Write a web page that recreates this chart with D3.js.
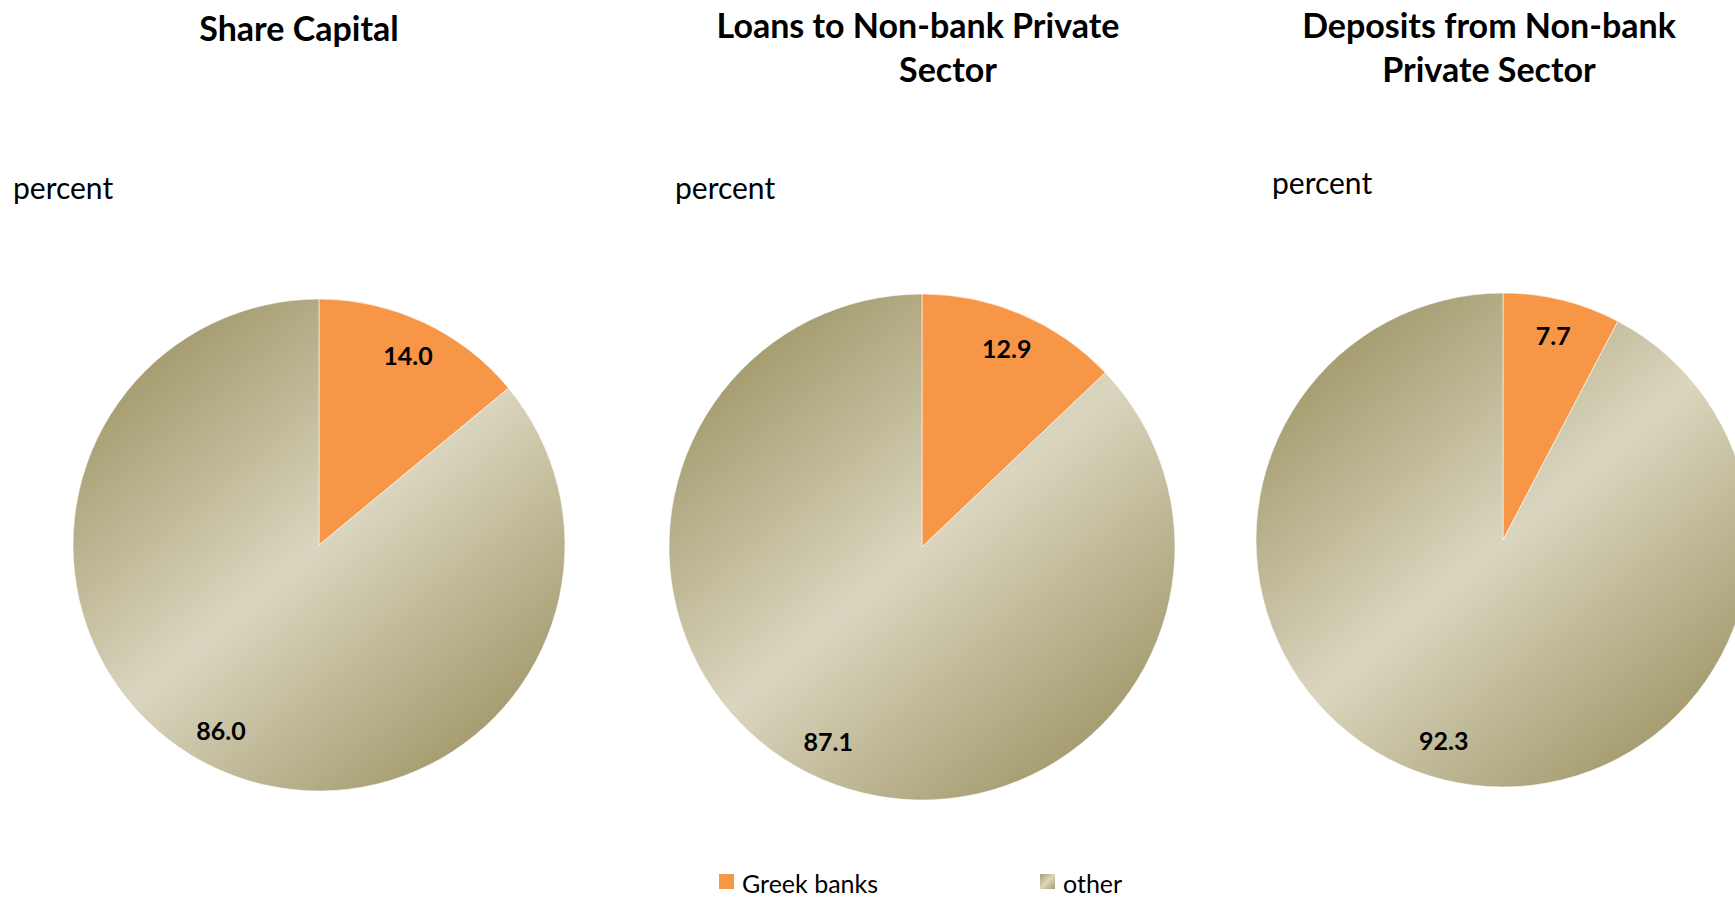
<!DOCTYPE html>
<html>
<head>
<meta charset="utf-8">
<script src="https://cdn.jsdelivr.net/npm/d3@7"></script>
<style>
  html, body { margin: 0; padding: 0; background: #ffffff; overflow: hidden; }
  svg { display: block; }
  text { font-family: Lato, "Noto Sans", sans-serif; fill: #000; }
</style>
</head>
<body>
<script>
// Market shares of Greek banks, percent
const seriesNames = ["Greek banks", "other"];
const panelTitles = [
  ["Share Capital"],
  ["Loans to Non-bank Private", "Sector"],
  ["Deposits from Non-bank", "Private Sector"]
];
const greekBanks = [14.0, 12.9, 7.7];
const other = [86.0, 87.1, 92.3];
const unitLabel = "percent";

const W = 1735, H = 897;

// Panel geometry: pie centre/radius, title centre (+ per-line shift), unit label position
const panels = [
  { cx: 319, cy: 545, r: 246, tx: 299, ty: 41, lineDx: [0], px: 13, py: 199 },
  { cx: 922, cy: 547, r: 253, tx: 918, ty: 38, lineDx: [0, 30], px: 675, py: 199 },
  { cx: 1503, cy: 540, r: 247, tx: 1489, ty: 38, lineDx: [0, 0], px: 1272, py: 194 }
];

const orange = "#f79646";
const khakiDark = "#a69d71";
const khakiLight = "#dad5be";

const svg = d3.select("body").append("svg")
  .attr("width", W).attr("height", H);

const defs = svg.append("defs");

function addGradient(id, x1, y1, x2, y2, units) {
  const g = defs.append("linearGradient").attr("id", id)
    .attr("gradientUnits", units)
    .attr("x1", x1).attr("y1", y1).attr("x2", x2).attr("y2", y2);
  g.append("stop").attr("offset", 0).attr("stop-color", khakiDark);
  g.append("stop").attr("offset", 0.5).attr("stop-color", khakiLight);
  g.append("stop").attr("offset", 1).attr("stop-color", khakiDark);
}

const pie = d3.pie().sort(null).value(d => d.value)
  .startAngle(0).endAngle(2 * Math.PI);

// gradient axis tilted ~50° below horizontal
const gAng = 50 * Math.PI / 180;
const gdx = Math.cos(gAng), gdy = Math.sin(gAng);

panels.forEach((p, i) => {
  const gid = "khaki" + i;
  addGradient(gid, p.cx - gdx * p.r, p.cy - gdy * p.r,
                   p.cx + gdx * p.r, p.cy + gdy * p.r, "userSpaceOnUse");

  const data = [
    { name: seriesNames[0], value: greekBanks[i] },
    { name: seriesNames[1], value: other[i] }
  ];
  const arcs = pie(data);
  const labelArc = d3.arc().innerRadius(p.r * 0.85).outerRadius(p.r * 0.85);

  const g = svg.append("g").attr("transform", `translate(${p.cx},${p.cy})`);

  g.selectAll("path.slice").data(arcs).enter().append("path")
    .attr("class", "slice")
    .attr("transform", `translate(${-p.cx},${-p.cy})`)
    .attr("d", d => {
      // drawn in page coordinates so the gradient spans the whole pie
      const path = d3.path();
      const a0 = d.startAngle - Math.PI / 2, a1 = d.endAngle - Math.PI / 2;
      path.moveTo(p.cx, p.cy);
      path.lineTo(p.cx + p.r * Math.cos(a0), p.cy + p.r * Math.sin(a0));
      path.arc(p.cx, p.cy, p.r, a0, a1, false);
      path.closePath();
      return path.toString();
    })
    .attr("fill", (d, j) => j === 0 ? orange : `url(#${gid})`)
    .attr("stroke", "#ffffff")
    .attr("stroke-opacity", 0.7)
    .attr("stroke-width", 0.8);

  g.selectAll("text.val").data(arcs).enter().append("text")
    .attr("class", "val")
    .attr("transform", d => {
      const [x, y] = labelArc.centroid(d);
      // the large slice's label sits a little further round the rim
      return d.index === 1 ? `translate(${x - 9},${y - 3})` : `translate(${x},${y})`;
    })
    .attr("text-anchor", "middle")
    .attr("dy", "0.36em")
    .style("font-size", "25px")
    .style("font-weight", 700)
    .text(d => d3.format(".1f")(d.data.value));

  // title
  const t = svg.append("text")
    .attr("x", p.tx).attr("y", p.ty)
    .attr("text-anchor", "middle")
    .style("font-size", "34px")
    .style("font-weight", 700);
  panelTitles[i].forEach((line, k) => {
    t.append("tspan").attr("x", p.tx + (p.lineDx[k] || 0))
      .attr("dy", k === 0 ? 0 : 44).text(line);
  });

  // unit label
  svg.append("text")
    .attr("x", p.px).attr("y", p.py)
    .style("font-size", "30px")
    .text(unitLabel);
});

// legend
addGradient("khakiLegend", 0, 0, 1, 1, "objectBoundingBox");
const legendItems = [
  { name: seriesNames[0], fill: orange, x: 719 },
  { name: seriesNames[1], fill: "url(#khakiLegend)", x: 1040 }
];
const lg = svg.append("g");
legendItems.forEach(it => {
  lg.append("rect").attr("x", it.x).attr("y", 874)
    .attr("width", 15).attr("height", 15).attr("fill", it.fill);
  lg.append("text").attr("x", it.x + 23).attr("y", 893)
    .style("font-size", "25px").text(it.name);
});
</script>
</body>
</html>
